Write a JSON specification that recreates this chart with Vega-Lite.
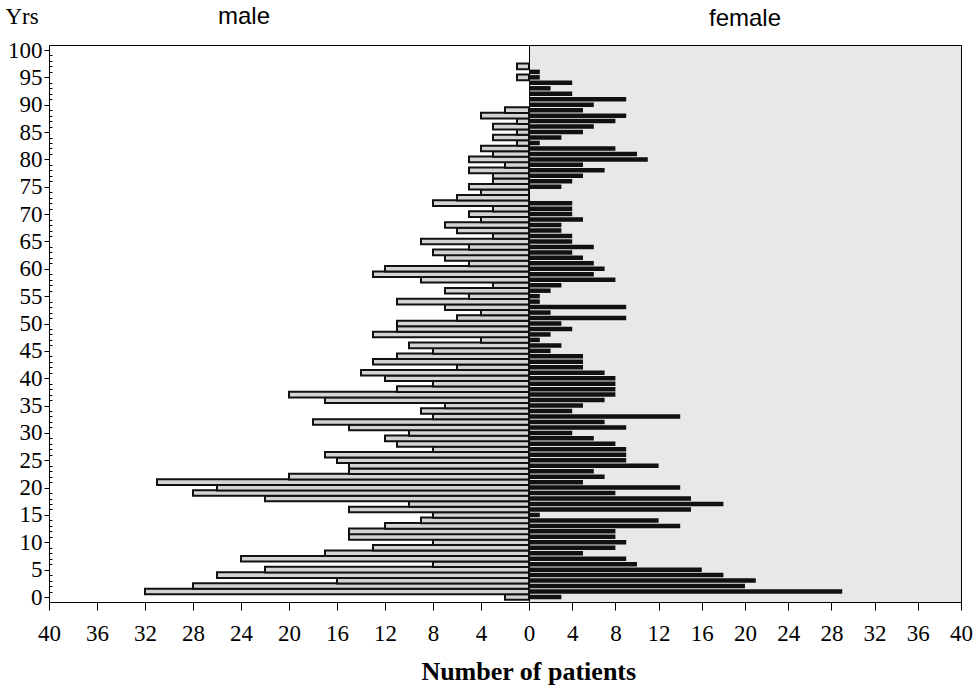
{
  "$schema": "https://vega.github.io/schema/vega-lite/v6.json",
  "background": "white",
  "padding": {"left": 4, "top": 4, "right": 15, "bottom": 0},
  "spacing": 0,
  "bounds": "flush",
  "config": {
    "axis": {"labelFont": "Liberation Serif", "labelFontSize": 23, "labelColor": "#000", "domainColor": "#000", "tickColor": "#000", "grid": false, "titleFont": "Liberation Serif", "titleColor": "#000", "labelFlush": false},
    "title": {"font": "Liberation Sans", "fontSize": 24, "fontWeight": "normal", "color": "#000"},
    "concat": {"spacing": 0}
  },
  "title": {"text": "Number of patients", "orient": "bottom", "anchor": "middle", "font": "Liberation Serif", "fontSize": 26, "fontWeight": "bold", "offset": 13, "dx": 40},
  "datasets": {
    "male": [
      {"age":0,"n":2},{"age":1,"n":32},{"age":2,"n":28},{"age":3,"n":16},{"age":4,"n":26},{"age":5,"n":22},{"age":6,"n":8},{"age":7,"n":24},{"age":8,"n":17},{"age":9,"n":13},
      {"age":10,"n":8},{"age":11,"n":15},{"age":12,"n":15},{"age":13,"n":12},{"age":14,"n":9},{"age":15,"n":8},{"age":16,"n":15},{"age":17,"n":10},{"age":18,"n":22},{"age":19,"n":28},
      {"age":20,"n":26},{"age":21,"n":31},{"age":22,"n":20},{"age":23,"n":15},{"age":24,"n":15},{"age":25,"n":16},{"age":26,"n":17},{"age":27,"n":8},{"age":28,"n":11},{"age":29,"n":12},
      {"age":30,"n":10},{"age":31,"n":15},{"age":32,"n":18},{"age":33,"n":8},{"age":34,"n":9},{"age":35,"n":7},{"age":36,"n":17},{"age":37,"n":20},{"age":38,"n":11},{"age":39,"n":8},
      {"age":40,"n":12},{"age":41,"n":14},{"age":42,"n":6},{"age":43,"n":13},{"age":44,"n":11},{"age":45,"n":8},{"age":46,"n":10},{"age":47,"n":4},{"age":48,"n":13},{"age":49,"n":11},
      {"age":50,"n":11},{"age":51,"n":6},{"age":52,"n":4},{"age":53,"n":7},{"age":54,"n":11},{"age":55,"n":5},{"age":56,"n":7},{"age":57,"n":3},{"age":58,"n":9},{"age":59,"n":13},
      {"age":60,"n":12},{"age":61,"n":5},{"age":62,"n":7},{"age":63,"n":8},{"age":64,"n":5},{"age":65,"n":9},{"age":66,"n":3},{"age":67,"n":6},{"age":68,"n":7},{"age":69,"n":4},
      {"age":70,"n":5},{"age":71,"n":3},{"age":72,"n":8},{"age":73,"n":6},{"age":74,"n":4},{"age":75,"n":5},{"age":76,"n":3},{"age":77,"n":3},{"age":78,"n":5},{"age":79,"n":2},
      {"age":80,"n":5},{"age":81,"n":3},{"age":82,"n":4},{"age":83,"n":1},{"age":84,"n":3},{"age":85,"n":1},{"age":86,"n":3},{"age":87,"n":1},{"age":88,"n":4},{"age":89,"n":2},
      {"age":95,"n":1},{"age":97,"n":1}
    ],
    "female": [
      {"age":0,"n":3},{"age":1,"n":29},{"age":2,"n":20},{"age":3,"n":21},{"age":4,"n":18},{"age":5,"n":16},{"age":6,"n":10},{"age":7,"n":9},{"age":8,"n":5},{"age":9,"n":8},
      {"age":10,"n":9},{"age":11,"n":8},{"age":12,"n":8},{"age":13,"n":14},{"age":14,"n":12},{"age":15,"n":1},{"age":16,"n":15},{"age":17,"n":18},{"age":18,"n":15},{"age":19,"n":8},
      {"age":20,"n":14},{"age":21,"n":5},{"age":22,"n":7},{"age":23,"n":6},{"age":24,"n":12},{"age":25,"n":9},{"age":26,"n":9},{"age":27,"n":9},{"age":28,"n":8},{"age":29,"n":6},
      {"age":30,"n":4},{"age":31,"n":9},{"age":32,"n":7},{"age":33,"n":14},{"age":34,"n":4},{"age":35,"n":5},{"age":36,"n":7},{"age":37,"n":8},{"age":38,"n":8},{"age":39,"n":8},
      {"age":40,"n":8},{"age":41,"n":7},{"age":42,"n":5},{"age":43,"n":5},{"age":44,"n":5},{"age":45,"n":2},{"age":46,"n":3},{"age":47,"n":1},{"age":48,"n":2},{"age":49,"n":4},
      {"age":50,"n":3},{"age":51,"n":9},{"age":52,"n":2},{"age":53,"n":9},{"age":54,"n":1},{"age":55,"n":1},{"age":56,"n":2},{"age":57,"n":3},{"age":58,"n":8},{"age":59,"n":6},
      {"age":60,"n":7},{"age":61,"n":6},{"age":62,"n":5},{"age":63,"n":4},{"age":64,"n":6},{"age":65,"n":4},{"age":66,"n":4},{"age":67,"n":3},{"age":68,"n":3},{"age":69,"n":5},
      {"age":70,"n":4},{"age":71,"n":4},{"age":72,"n":4},{"age":75,"n":3},{"age":76,"n":4},{"age":77,"n":5},{"age":78,"n":7},{"age":79,"n":5},
      {"age":80,"n":11},{"age":81,"n":10},{"age":82,"n":8},{"age":83,"n":1},{"age":84,"n":3},{"age":85,"n":5},{"age":86,"n":6},{"age":87,"n":8},{"age":88,"n":9},{"age":89,"n":5},
      {"age":90,"n":6},{"age":91,"n":9},{"age":92,"n":4},{"age":93,"n":2},{"age":94,"n":4},{"age":95,"n":1},{"age":96,"n":1}
    ]
  },
  "hconcat": [
    {
      "width": 480,
      "height": 557,
      "title": {"text": "male", "dx": -45, "offset": -24},
      "view": {"stroke": "#000", "strokeWidth": 1},
      "data": {"name": "male"},
      "mark": {"type": "bar", "orient": "horizontal", "height": 5.6, "fill": "#d4d4d4", "stroke": "#111", "strokeWidth": 2},
      "encoding": {
        "x": {"field": "n", "type": "quantitative", "scale": {"domain": [0, 40], "reverse": true, "nice": false},
          "axis": {"values": [0,4,8,12,16,20,24,28,32,36,40], "title": null, "tickSize": 8, "labelPadding": 12}},
        "y": {"field": "age", "type": "quantitative", "scale": {"domain": [0, 100], "nice": false},
          "axis": {
            "values": [0,1,2,3,4,5,6,7,8,9,10,11,12,13,14,15,16,17,18,19,20,21,22,23,24,25,26,27,28,29,30,31,32,33,34,35,36,37,38,39,40,41,42,43,44,45,46,47,48,49,50,51,52,53,54,55,56,57,58,59,60,61,62,63,64,65,66,67,68,69,70,71,72,73,74,75,76,77,78,79,80,81,82,83,84,85,86,87,88,89,90,91,92,93,94,95,96,97,98,99,100],
            "labelExpr": "datum.value % 5 === 0 ? datum.label : ''",
            "labelOverlap": false,
            "tickSize": {"condition": {"test": "datum.value % 5 === 0", "value": 5}, "value": -3},
            "labelPadding": 2,
            "title": "Yrs", "titleAngle": 0, "titleX": -44, "titleY": -17, "titleAlign": "left", "titleBaseline": "bottom",
            "titleFontSize": 23, "titleFontWeight": "normal"
          }}
      }
    },
    {
      "width": 432,
      "height": 557,
      "title": {"text": "female", "offset": 14},
      "view": {"fill": "#e8e8e8", "stroke": "#000", "strokeWidth": 1},
      "data": {"name": "female"},
      "mark": {"type": "bar", "orient": "horizontal", "height": 4.5, "fill": "#111"},
      "encoding": {
        "x": {"field": "n", "type": "quantitative", "scale": {"domain": [0, 40], "nice": false},
          "axis": {"values": [4,8,12,16,20,24,28,32,36,40], "title": null, "tickSize": 8, "labelPadding": 12}},
        "y": {"field": "age", "type": "quantitative", "scale": {"domain": [0, 100], "nice": false}, "axis": null}
      }
    }
  ]
}
